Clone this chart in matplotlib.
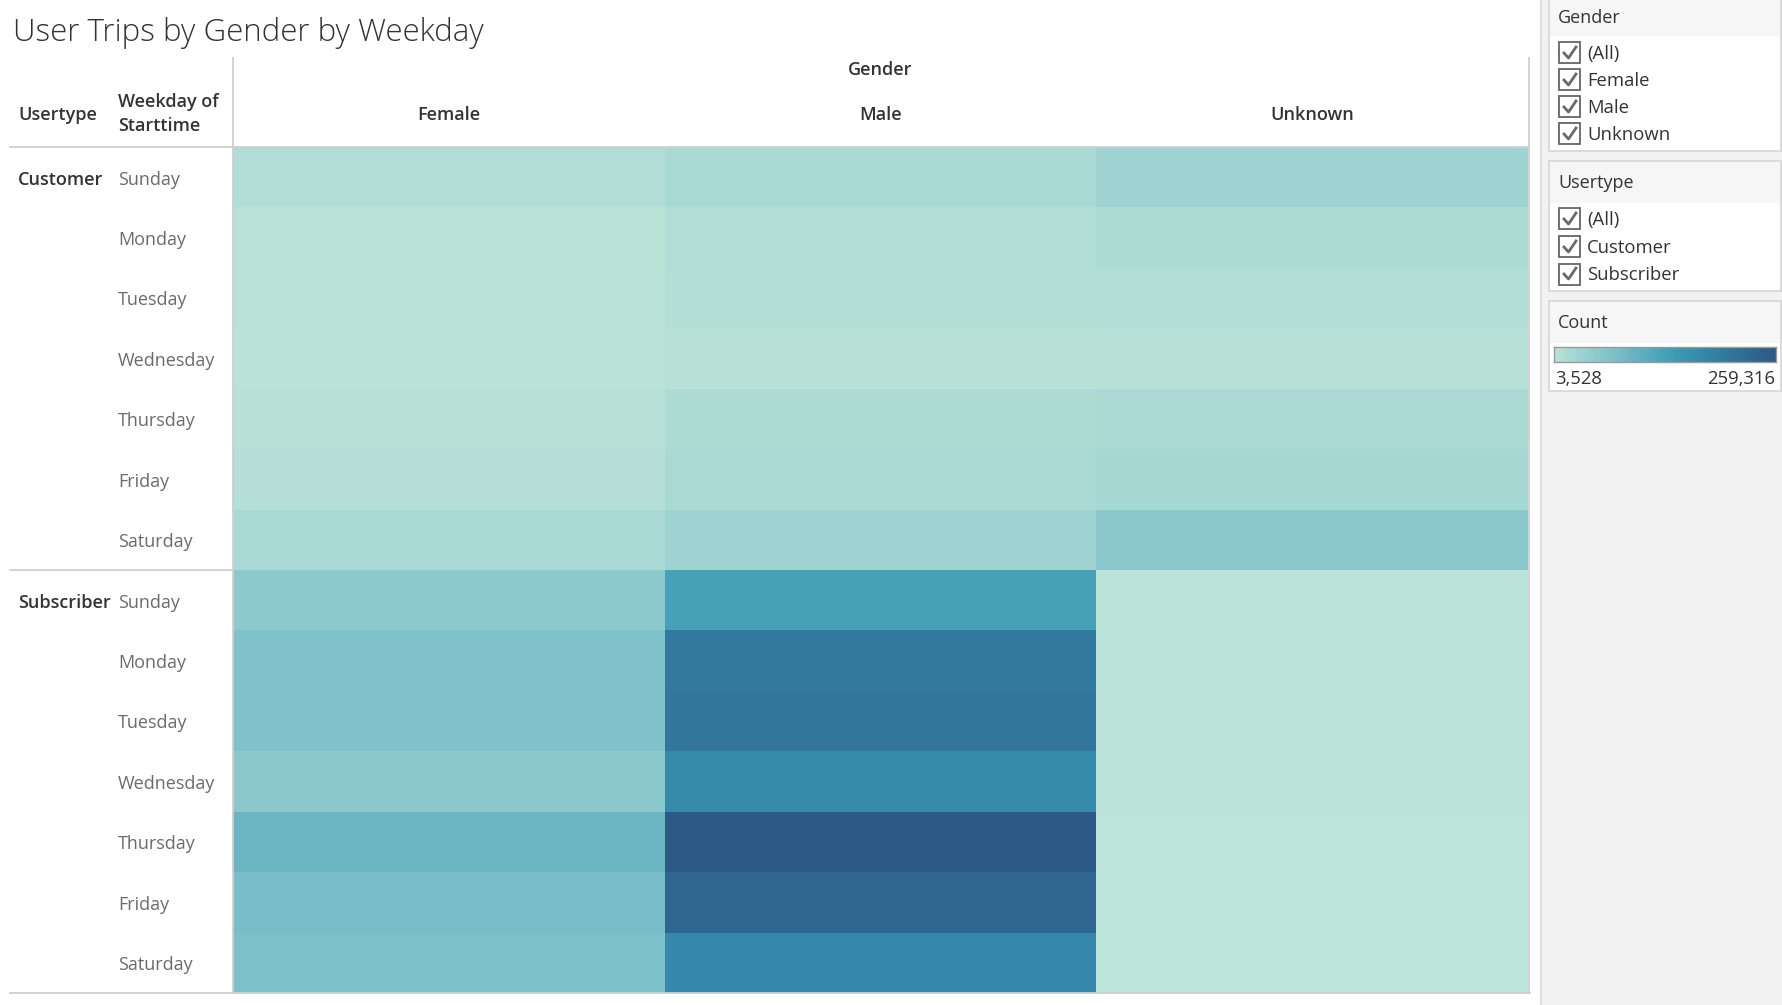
import matplotlib
matplotlib.use("Agg")
import matplotlib.pyplot as plt
import numpy as np
from matplotlib.colors import LinearSegmentedColormap, Normalize
from matplotlib.lines import Line2D
from matplotlib.patches import Rectangle
from matplotlib.transforms import blended_transform_factory

# ---------------- data ----------------
title = "User Trips by Gender by Weekday"
genders = ["Female", "Male", "Unknown"]
usertypes = ["Customer", "Subscriber"]
weekdays = ["Sunday", "Monday", "Tuesday", "Wednesday", "Thursday", "Friday", "Saturday"]

customer_female = [15038, 7086, 6574, 5807, 8644, 9923, 23991]
customer_male = [23991, 15038, 13760, 8644, 17596, 21433, 34223]
customer_unknown = [34223, 17596, 15038, 8644, 21433, 26549, 57243]
subscriber_female = [54686, 70033, 70033, 57243, 90496, 77707, 72591]
subscriber_male = [131422, 200485, 205600, 172348, 259316, 233737, 174906]
subscriber_unknown = [5200, 4900, 4700, 4600, 3528, 3900, 4100]

count_min, count_max = 3528, 259316
palette = ["#bce4d8", "#aedcd5", "#a1d5d2", "#95cecf", "#89c8cc", "#7ec1ca", "#72bac6",
           "#66b2c2", "#59acbe", "#4ba5ba", "#419eb6", "#3b96b2", "#358ead", "#3586a7",
           "#347ea1", "#32779b", "#316f96", "#2f6790", "#2d608a", "#2c5985"]

# ---------------- setup ----------------
W, H = 1783, 1005
plt.rcParams["font.family"] = ["Open Sans", "DejaVu Sans"]
fig = plt.figure(figsize=(W / 100, H / 100), dpi=100)
fig.patch.set_facecolor("white")

def fx(x):
    return x / W

def fy(y):
    return 1 - y / H

def fline(x0, y0, x1, y1, color="#cfcfcf", lw=1.3, z=5):
    fig.add_artist(Line2D([fx(x0), fx(x1)], [fy(y0), fy(y1)], color=color, lw=lw, zorder=z))

cmap = LinearSegmentedColormap.from_list("blueteal", palette)
norm = Normalize(count_min, count_max)

matrix = np.array([
    np.concatenate([customer_female, subscriber_female]),
    np.concatenate([customer_male, subscriber_male]),
    np.concatenate([customer_unknown, subscriber_unknown]),
]).T  # rows: 14, cols: 3

# heatmap axes
L, R, T, B = 233, 1528, 147, 993
ax = fig.add_axes([fx(L), fy(B), fx(R - L), (B - T) / H])
ax.pcolormesh(np.arange(4), np.arange(15), matrix, cmap=cmap, norm=norm, shading="flat")
ax.set_xlim(0, 3)
ax.set_ylim(14, 0)
ax.axis("off")

# label axes
lax = fig.add_axes([0, fy(B), fx(L), (B - T) / H])
lax.set_xlim(0, L)
lax.set_ylim(14, 0)
lax.axis("off")
nrow = len(weekdays)
dy = 0.04
for u, ut in enumerate(usertypes):
    lax.text(18, u * nrow + 0.5 + dy, ut, fontsize=13, fontweight="semibold", color="#333333",
             va="center", ha="left")
    for d, wd in enumerate(weekdays):
        lax.text(118, u * nrow + d + 0.5 + dy, wd, fontsize=13, color="#6b6b6b",
                 va="center", ha="left")
lax.plot([10, L], [nrow, nrow], color="#cfcfcf", lw=1.3, clip_on=False)

# column headers
tr = blended_transform_factory(ax.transData, fig.transFigure)
ax.text(1.5, fy(70), "Gender", transform=tr, ha="center", va="center", fontsize=13,
        fontweight="semibold", color="#333333")
for j, g in enumerate(genders):
    ax.text(j + 0.5, fy(115), g, transform=tr, ha="center", va="center", fontsize=13,
            fontweight="semibold", color="#333333")
fig.text(fx(18), fy(115), "Usertype", ha="left", va="center", fontsize=13,
         fontweight="semibold", color="#333333")
fig.text(fx(118), fy(114), "Weekday of\nStarttime", ha="left", va="center", fontsize=13,
         fontweight="semibold", color="#333333", linespacing=1.45)

# title
fig.text(fx(13), fy(33), title, ha="left", va="center", fontsize=22.5, fontweight="light",
         color="#333333")

# grid lines
fline(10, T, R + 1, T)
fline(10, B, R + 2, B)
fline(L, 58, L, B)
fline(R + 1, 58, R + 1, B)

# ---------------- right panel ----------------
fig.add_artist(Rectangle((fx(1541), 0), fx(W - 1541), 1, transform=fig.transFigure,
                         facecolor="#f2f2f2", edgecolor="none", zorder=1))
fline(1541, 0, 1541, H, color="#dadada", lw=1.2, z=2)

def panel(y0, y1, yh, label):
    fig.add_artist(Rectangle((fx(1549), fy(y1)), fx(1781 - 1549), (y1 - y0) / H,
                             transform=fig.transFigure, facecolor="white",
                             edgecolor="#d6d6d6", lw=1.2, zorder=2))
    fig.add_artist(Rectangle((fx(1550), fy(yh)), fx(1780 - 1550), (yh - y0 - 1) / H,
                             transform=fig.transFigure, facecolor="#f6f6f6",
                             edgecolor="none", zorder=3))
    fig.text(fx(1558), fy((y0 + yh) / 2 + 1), label, ha="left", va="center", fontsize=13,
             color="#333333", zorder=4)

def checkbox(yc, label):
    s = 21
    fig.add_artist(Rectangle((fx(1559), fy(yc + s / 2)), fx(s), s / H, transform=fig.transFigure,
                             facecolor="white", edgecolor="#666666", lw=1.3, zorder=4))
    fig.add_artist(Line2D([fx(1564), fx(1568.5), fx(1576)], [fy(yc), fy(yc + 5), fy(yc - 6)],
                          color="#6a6a6a", lw=2.0, zorder=5))
    fig.text(fx(1587), fy(yc + 1), label, ha="left", va="center", fontsize=13.3, color="#333333",
             zorder=5)

panel(-2, 151, 36, "Gender")
for yc, lab in zip([53, 80, 107, 134], ["(All)"] + genders):
    checkbox(yc, lab)
panel(161, 291, 203, "Usertype")
for yc, lab in zip([219, 247, 274], ["(All)"] + usertypes):
    checkbox(yc, lab)
panel(301, 391, 343, "Count")

cax = fig.add_axes([fx(1554), fy(362), fx(1776 - 1554), 15 / H])
gradient = np.linspace(count_min, count_max, 256)[None, :]
cax.imshow(gradient, aspect="auto", cmap=cmap, norm=norm,
           extent=[count_min, count_max, 0, 1])
cax.set_xticks([])
cax.set_yticks([])
for sp in cax.spines.values():
    sp.set_color("#9a9a9a")
    sp.set_linewidth(1.0)
cax.set_zorder(6)
fig.text(fx(1555), fy(379), f"{count_min:,}", ha="left", va="center", fontsize=13.3,
         color="#333333", zorder=6)
fig.text(fx(1775), fy(379), f"{count_max:,}", ha="right", va="center", fontsize=13.3,
         color="#333333", zorder=6)

fig.savefig("out.png", dpi=100, facecolor="white")
